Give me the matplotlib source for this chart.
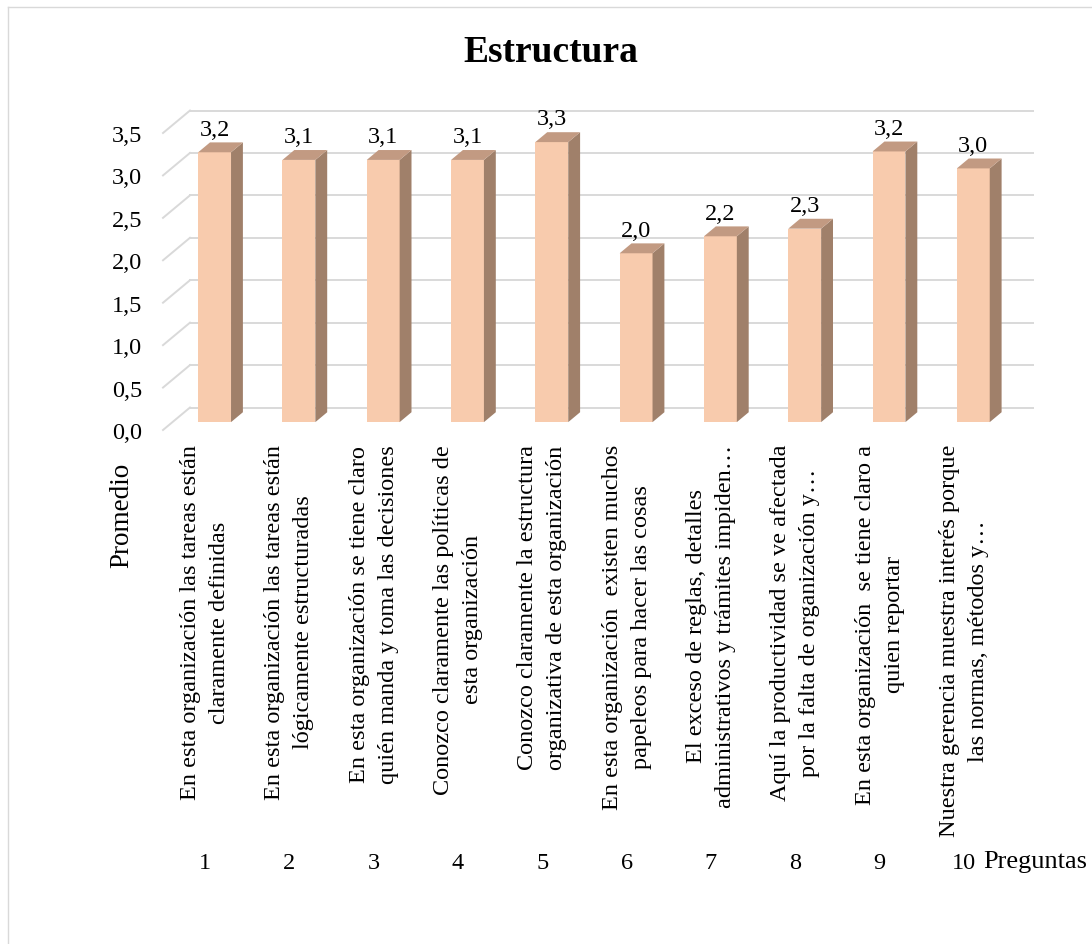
import matplotlib
matplotlib.use('Agg')
import matplotlib.pyplot as plt
from matplotlib.patches import Polygon
from matplotlib.lines import Line2D
import numpy as np

plt.rcParams['font.family'] = ['Liberation Serif', 'DejaVu Serif']

# data
preguntas = list(range(1, 11))
promedios = [3.18, 3.09, 3.09, 3.09, 3.30, 1.99, 2.19, 2.28, 3.19, 2.99]
enunciados = [
    "En esta organización las tareas están\nclaramente definidas",
    "En esta organización las tareas están\nlógicamente estructuradas",
    "En esta organización se tiene claro\nquién manda y toma las decisiones",
    "Conozco claramente las políticas de\nesta organización",
    "Conozco claramente la estructura\norganizativa de esta organización",
    "En esta organización  existen muchos\npapeleos para hacer las cosas",
    "El exceso de reglas, detalles\nadministrativos y trámites impiden…",
    "Aquí la productividad se ve afectada\npor la falta de organización y…",
    "En esta organización  se tiene claro a\nquien reportar",
    "Nuestra gerencia muestra interés porque\nlas normas, métodos y…",
]
y_ticks = [0.0, 0.5, 1.0, 1.5, 2.0, 2.5, 3.0, 3.5]

W, H = 1092, 945
fs = 17.5
fig = plt.figure(figsize=(W / 100, H / 100), dpi=100)
ax = fig.add_axes([163 / W, 1 - 431 / H, 843 / W, 297 / H])
ax.set_xlim(0.5, 10.5)
ax.set_ylim(0, 3.5)

# fake 3d depth (data units)
back_dx, back_dy = 0.32, 0.265
z0, z1 = 0.35, 0.79
half_w = 0.195
grid_c = '#D9D9D9'
front_c, side_c, top_c = '#F8CBAD', '#A0806A', '#C29A82'

for y in y_ticks:
    ax.plot([0.5, 0.5 + back_dx], [y, y + back_dy], color=grid_c, lw=1.4,
            clip_on=False, zorder=1)
    ax.plot([0.5 + back_dx, 10.5 + back_dx], [y + back_dy] * 2, color=grid_c,
            lw=1.4, clip_on=False, zorder=1)

ox, oy = z0 * back_dx, z0 * back_dy
ddx, ddy = (z1 - z0) * back_dx, (z1 - z0) * back_dy
xs = np.array(preguntas) + ox
ax.bar(xs, promedios, width=2 * half_w, bottom=oy, color=front_c,
       linewidth=0, zorder=3, clip_on=False)
for x, v in zip(xs, promedios):
    x0, x1 = x - half_w, x + half_w
    yt = oy + v
    ax.add_patch(Polygon([(x1, oy), (x1 + ddx, oy + ddy), (x1 + ddx, yt + ddy), (x1, yt)],
                         closed=True, facecolor=side_c, lw=0, zorder=3, clip_on=False))
    ax.add_patch(Polygon([(x0, yt), (x1, yt), (x1 + ddx, yt + ddy), (x0 + ddx, yt + ddy)],
                         closed=True, facecolor=top_c, lw=0, zorder=3, clip_on=False))
    ax.annotate(f"{v:.1f}".replace('.', ','), (x, yt + ddy), xytext=(0, 2),
                textcoords='offset points', ha='center', va='bottom', fontsize=fs,
                annotation_clip=False)

ax.set_yticks(y_ticks)
ax.set_yticklabels([f"{t:.1f}".replace('.', ',') for t in y_ticks], fontsize=fs)
ax.set_xticks(preguntas)
ax.set_xticklabels([str(p) for p in preguntas], fontsize=fs)
ax.tick_params(axis='y', length=0, pad=15)
ax.tick_params(axis='x', length=0, pad=304)
for s in ax.spines.values():
    s.set_visible(False)

for p, txt in zip(preguntas, enunciados):
    ax.annotate(txt, (p, 0), xycoords=('data', 'axes fraction'), xytext=(0, -10),
                textcoords='offset points', rotation=90, ha='center', va='top',
                multialignment='center', fontsize=fs, linespacing=1.5,
                annotation_clip=False)

fig.text(551 / W, 1 - 52 / H, "Estructura", fontsize=27, fontweight='bold',
         ha='center', va='center')
fig.text(122 / W, 1 - 515 / H, "Promedio", fontsize=19.5, rotation=90,
         ha='center', va='center')
fig.text(983 / W, 1 - 862 / H, "Preguntas", fontsize=19, ha='left', va='center')

# chart border (only top and left visible)
fig.add_artist(Line2D([8 / W, 8 / W], [0, 1 - 8 / H], transform=fig.transFigure,
                      color=grid_c, lw=1))
fig.add_artist(Line2D([8 / W, 1], [1 - 8 / H, 1 - 8 / H], transform=fig.transFigure,
                      color=grid_c, lw=1))

fig.savefig('out.png', dpi=100)
